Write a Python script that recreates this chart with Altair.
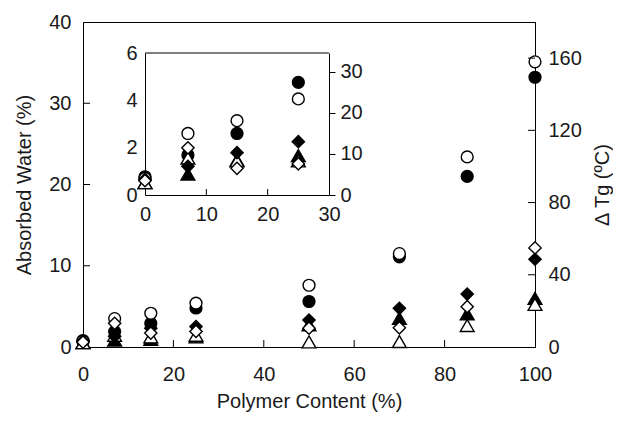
import altair as alt
import pandas as pd

# ---------------- data ----------------
main_x = [0, 7, 15, 25, 50, 70, 85, 100]
# Absorbed water (%), left axis
water_filled_circle = [0.8, 1.9, 2.9, 4.8, 5.6, 11.1, 21.0, 33.2]
water_open_circle = [0.7, 3.5, 4.15, 5.4, 7.6, 11.5, 23.4, 35.1]
# Delta Tg (degC), right axis
dtg_filled_diamond = [3.2, 5.9, 10.4, 11.3, 14.9, 21.4, 29.3, 48.6]
dtg_open_diamond = [2.7, 13.1, 7.7, 8.6, 10.4, 10.6, 22.3, 54.9]
dtg_filled_triangle = [2.4, 3.8, 4.2, 5.6, 12.3, 15.9, 18.4, 27.0]
dtg_open_triangle = [2.4, 6.5, 5.6, 6.5, 2.8, 3.0, 11.9, 23.6]

inset_x = [0, 7, 15, 25]
inset_water_filled_circle = [0.77, 1.69, 2.6, 4.76]
inset_water_open_circle = [0.7, 2.6, 3.14, 4.06]
inset_dtg_filled_diamond = [3.8, 7.0, 10.3, 13.0]
inset_dtg_open_diamond = [3.5, 11.5, 6.5, 7.6]
inset_dtg_filled_triangle = [3.0, 5.1, 8.5, 9.6]
inset_dtg_open_triangle = [3.0, 9.0, 8.3, 8.3]

main_x_ticks = [0, 20, 40, 60, 80, 100]
main_left_ticks = [0, 10, 20, 30, 40]
main_right_ticks = [0, 40, 80, 120, 160]
inset_x_ticks = [0, 10, 20, 30]
inset_left_ticks = [0, 2, 4, 6]
inset_right_ticks = [0, 10, 20, 30]

# ---------------- layout ----------------
W, H = 452, 325
IX = [62, 246]      # inset x range (pixels inside the plot)
IY = [173, 31]      # inset y range (bottom, top)
FONT = "Liberation Sans"
TXT = "#1a1a1a"


def df(xs, ys):
    return pd.DataFrame({"x": xs, "y": ys})


def pts(data, shape, filled, xenc, yenc, size):
    return alt.Chart(data).mark_point(
        shape=shape, filled=True, fill="black" if filled else "white",
        stroke="black", strokeWidth=1.4, size=size, opacity=1,
    ).encode(x=xenc, y=yenc)


def ax(**kw):
    base = dict(grid=False, labelFont=FONT, labelFontSize=20, labelColor=TXT,
                titleFont=FONT, titleFontSize=20, titleColor=TXT, titleFontWeight="normal",
                domainColor="black", domainWidth=1, labelFlush=False, labelOverlap=False,
                ticks=False, tickSize=0)
    base.update(kw)
    return alt.Axis(**base)


CS, DS, TS = 140, 150, 190

# ---- group A: main, left axis (absorbed water) ----
xA = alt.X("x:Q", scale=alt.Scale(domain=[0, 100], nice=False),
           axis=ax(orient="bottom", values=main_x_ticks, title="Polymer Content (%)",
                   labelPadding=17, titleX=W / 2, titleY=54, titleBaseline="middle"))
yA = alt.Y("y:Q", scale=alt.Scale(domain=[0, 40], nice=False),
           axis=ax(orient="left", values=main_left_ticks, title="Absorbed Water (%)",
                   labelPadding=12, titleAngle=270, titleX=-59, titleY=H / 2,
                   titleBaseline="middle", titleAlign="center"))
groupA = alt.layer(
    alt.Chart(df(main_x_ticks[1:-1], [0] * 4)).mark_rule(color="black", strokeWidth=1)
    .encode(x=xA, y=alt.value(H), y2=alt.value(H - 7)),
    alt.Chart(df([0] * 3, main_left_ticks[1:-1])).mark_rule(color="black", strokeWidth=1)
    .encode(y=yA, x=alt.value(0), x2=alt.value(7)),
    pts(df(main_x, water_filled_circle), "circle", True, xA, yA, CS),
    pts(df(main_x, water_open_circle), "circle", False, xA, yA, CS),
)

# ---- group B: main, right axis (delta Tg) ----
xB = alt.X("x:Q", scale=alt.Scale(domain=[0, 100], nice=False), axis=None)
yB = alt.Y("y:Q", scale=alt.Scale(domain=[0, 180], nice=False),
           axis=ax(orient="right", values=main_right_ticks, title="Δ Tg (ºC)",
                   labelPadding=13, titleAngle=270, titleX=67, titleY=H / 2,
                   titleBaseline="middle", titleAlign="center"))
groupB = alt.layer(
    alt.Chart(df([0] * 4, main_right_ticks[1:])).mark_rule(color="black", strokeWidth=1)
    .encode(y=yB, x=alt.value(W), x2=alt.value(W - 7)),
    pts(df(main_x, dtg_filled_triangle), "triangle-up", True, xB, yB, TS),
    pts(df(main_x, dtg_open_triangle), "triangle-up", False, xB, yB, TS),
    pts(df(main_x, dtg_filled_diamond), "diamond", True, xB, yB, DS),
    pts(df(main_x, dtg_open_diamond), "diamond", False, xB, yB, DS),
)

# ---- group C: inset, left axis ----
xC = alt.X("x:Q", scale=alt.Scale(domain=[0, 30], range=IX, nice=False),
           axis=ax(orient="bottom", offset=-(H - IY[0]), values=inset_x_ticks, title=None,
                   labelPadding=9))
yC = alt.Y("y:Q", scale=alt.Scale(domain=[0, 6], range=IY, nice=False),
           axis=ax(orient="left", offset=-IX[0], values=inset_left_ticks, title=None,
                   labelPadding=8))
groupC = alt.layer(
    alt.Chart(pd.DataFrame({"x": [0], "x2": [30], "y": [6]})).mark_rule(color="black", strokeWidth=1)
    .encode(x=xC, x2="x2:Q", y=yC),
    alt.Chart(df(inset_x_ticks[1:-1], [0] * 2)).mark_rule(color="black", strokeWidth=1)
    .encode(x=xC, y=alt.value(IY[0]), y2=alt.value(IY[0] - 6)),
    pts(df(inset_x, inset_water_filled_circle), "circle", True, xC, yC, CS),
    pts(df(inset_x, inset_water_open_circle), "circle", False, xC, yC, CS),
)

# ---- group D: inset, right axis ----
xD = alt.X("x:Q", scale=alt.Scale(domain=[0, 30], range=IX, nice=False), axis=None)
yD = alt.Y("y:Q", scale=alt.Scale(domain=[0, 34.6], range=IY, nice=False),
           axis=ax(orient="right", offset=-(W - IX[1]), values=inset_right_ticks, title=None,
                   ticks=True, tickSize=6, tickColor="black", labelPadding=5))
groupD = alt.layer(
    pts(df(inset_x, inset_dtg_filled_triangle), "triangle-up", True, xD, yD, TS),
    pts(df(inset_x, inset_dtg_open_triangle), "triangle-up", False, xD, yD, TS),
    pts(df(inset_x, inset_dtg_filled_diamond), "diamond", True, xD, yD, DS),
    pts(df(inset_x, inset_dtg_open_diamond), "diamond", False, xD, yD, DS),
)

chart = alt.layer(groupA, groupB, groupC, groupD).resolve_scale(
    x="independent", y="independent"
).properties(
    width=W, height=H,
    autosize=alt.AutoSizeParams(type="none"),
    padding={"left": 75, "top": 14, "right": 78, "bottom": 71},
    background="white",
).configure_view(stroke="black", strokeWidth=1)

chart.save("out.html", embed_options={"renderer": "svg", "actions": False})
